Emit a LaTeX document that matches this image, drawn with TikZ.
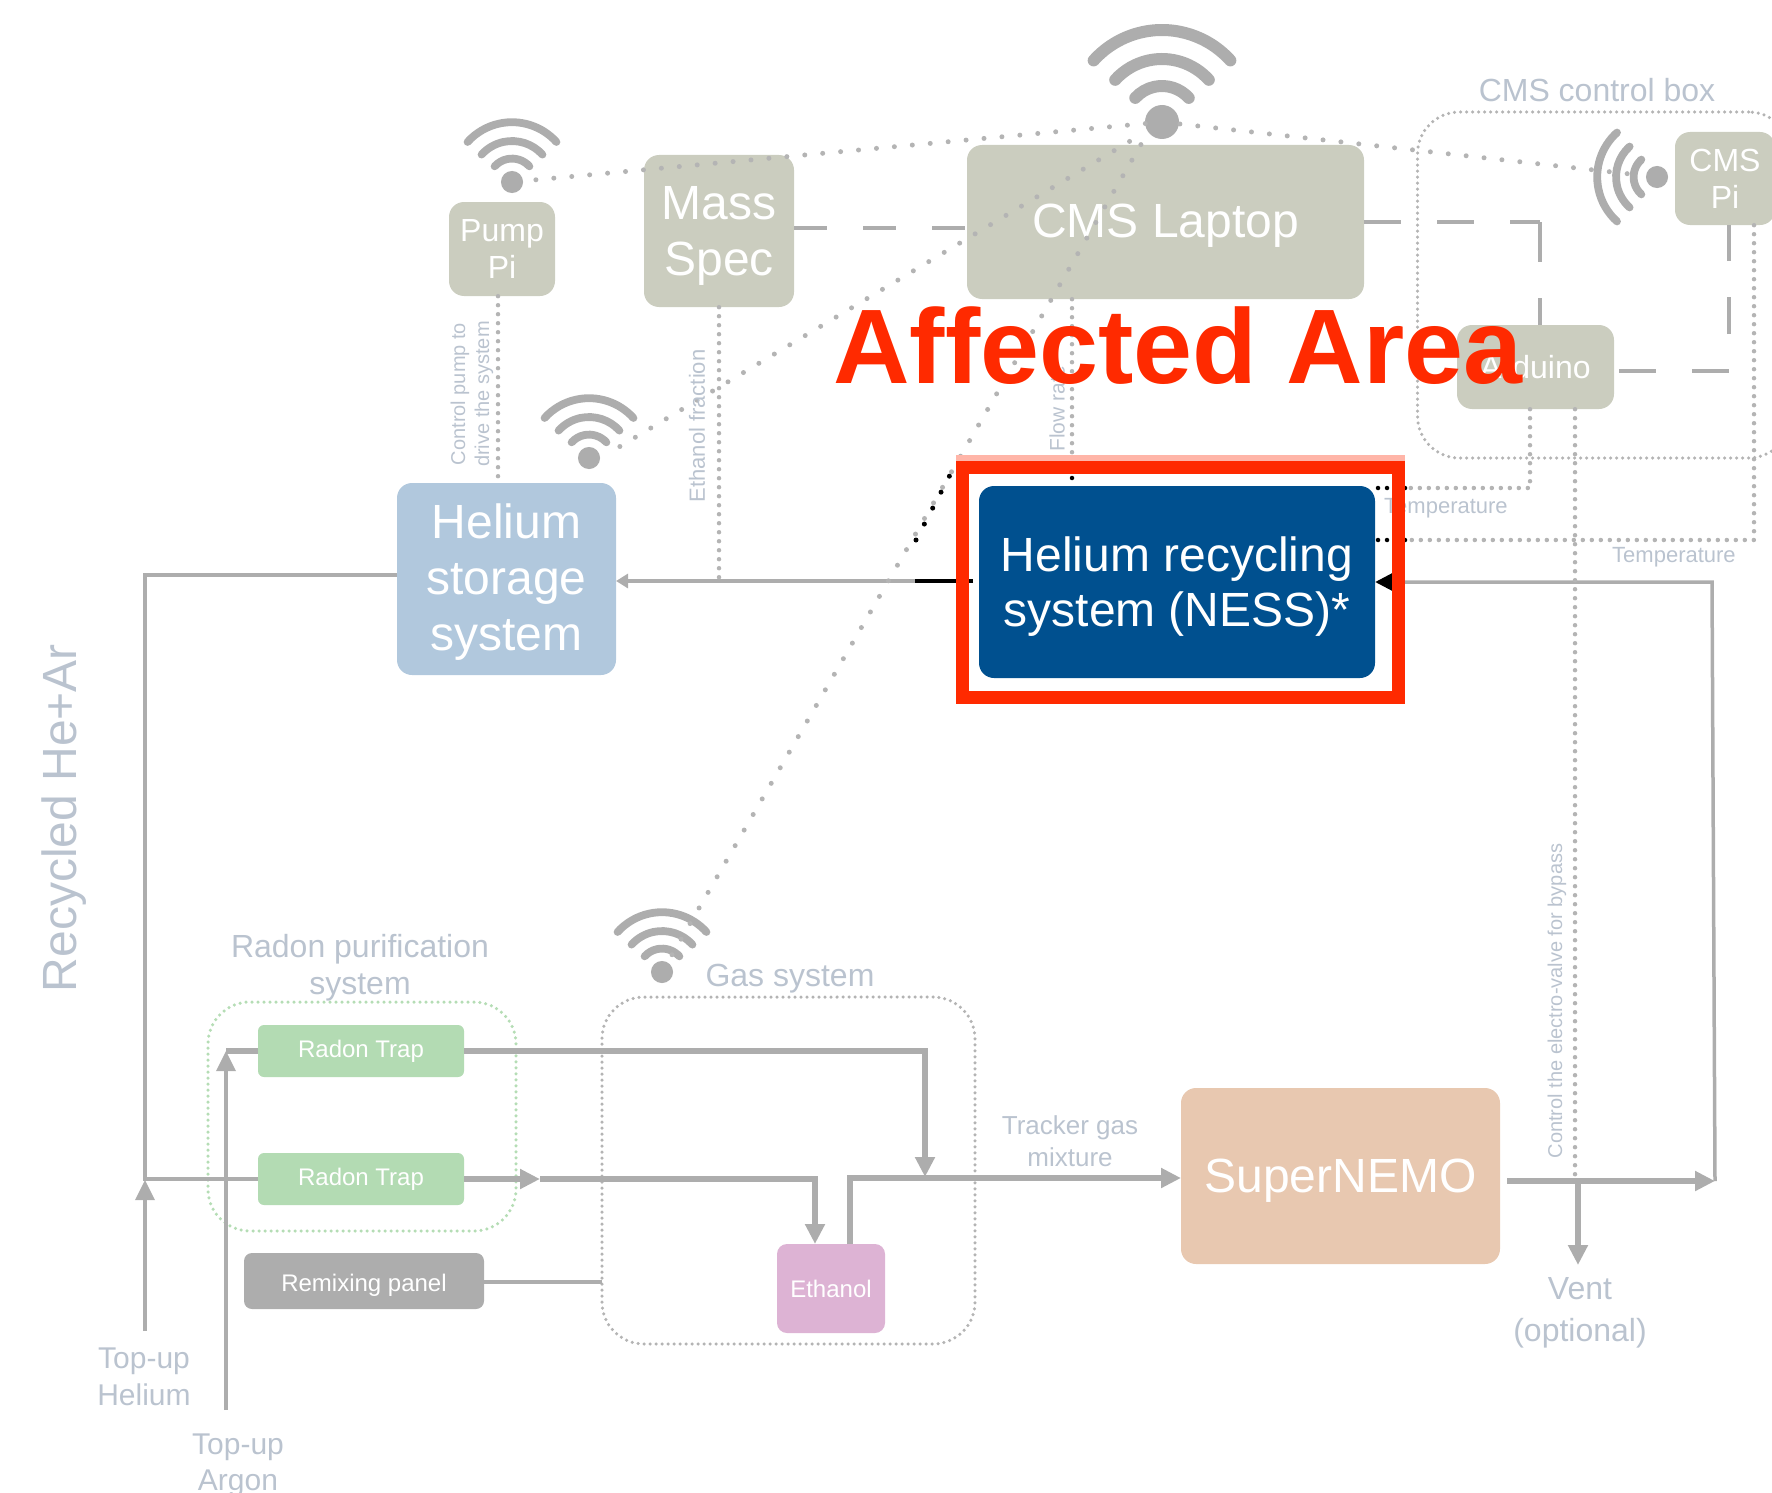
\documentclass[tikz,border=0pt]{standalone}
\usepackage{fontspec}
\setmainfont{Liberation Sans}
\usetikzlibrary{arrows.meta,calc}
\definecolor{linegray}{HTML}{ADADAD}
\definecolor{dotgray}{HTML}{B4B4B4}
\definecolor{boxgray}{HTML}{CBCDBF}
\definecolor{labelgray}{HTML}{BAC3CF}
\definecolor{stblue}{HTML}{B1C8DD}
\definecolor{nessblue}{HTML}{00508F}
\definecolor{trapgreen}{HTML}{B3DBB3}
\definecolor{groupgreen}{HTML}{B5DDB5}
\definecolor{ethpink}{HTML}{DDB3D4}
\definecolor{snorange}{HTML}{E8C8B0}
\definecolor{alertred}{HTML}{FF2A00}
\definecolor{alertpink}{HTML}{FFB5A8}
\newcommand{\lift}[1]{\rule{0pt}{#1pt}}
\tikzset{
  fs/.style 2 args={font=\fontsize{#1pt}{#2pt}\selectfont},
  box/.style={rounded corners=15pt,inner sep=0pt,align=center,text=white},
  label/.style={inner sep=0pt,align=center,text=labelgray},
  flow/.style={draw=linegray,line width=5.5pt},
  thinflow/.style={draw=linegray,line width=3.5pt},
  tip/.style={-{Triangle[length=20pt,width=19pt]}},
  darkflow/.style={draw=black,line width=4.5pt},
  dashline/.style={draw=linegray,line width=4pt,dash pattern=on 37pt off 36pt},
  dotline/.style={draw=dotgray,line width=4.5pt,line cap=round,dash pattern=on 0pt off 9pt},
  diagdot/.style={draw=dotgray,line width=5pt,line cap=round,dash pattern=on 0pt off 18pt},
  darkdot/.style={draw=black,line width=4.5pt,line cap=round,dash pattern=on 0pt off 9pt},
  darkdiag/.style={draw=black,line width=5pt,line cap=round,dash pattern=on 0pt off 18pt},
  group/.style={draw=dotgray,line width=3.5pt,line cap=round,dash pattern=on 0pt off 6pt,rounded corners=42pt,inner sep=0pt},
  pics/wifi/.style={code={
    \begin{scope}[y=1pt,x=1pt]
      \fill[linegray] (0,0) circle[radius=17pt*#1];
      \draw[linegray,line width=12pt*#1,line cap=round]
        (42:92*#1) arc[start angle=42,end angle=138,radius=92pt*#1]
        (42:63*#1) arc[start angle=42,end angle=138,radius=63pt*#1]
        (42:36*#1) arc[start angle=42,end angle=138,radius=36pt*#1];
    \end{scope}
  }},
}
\begin{document}
\begin{tikzpicture}[x=1pt,y=-1pt]
\useasboundingbox (0,0) rectangle (1772,1493);
\clip (0,0) rectangle (1772,1493);

% containers
\node[group,minimum width=373pt,minimum height=346pt] (ctrlbox) at (1604,285) {};
\node[group,draw=groupgreen,minimum width=308pt,minimum height=229pt] (radongroup) at (362,1116.5) {};
\node[group,minimum width=373pt,minimum height=347pt] (gasgroup) at (788.5,1170.5) {};

% boxes
\node[box,fill=boxgray,fs={32}{37},minimum width=106pt,minimum height=94pt] (pumppi) at (502,249) {Pump\\Pi};
\node[box,fill=boxgray,fs={48}{56},minimum width=150pt,minimum height=152pt] (massspec) at (719,231) {\lift{42}Mass\\Spec};
\node[box,fill=boxgray,fs={48}{52},minimum width=397pt,minimum height=154pt] (laptop) at (1165.5,222) {\lift{41}CMS Laptop};
\node[box,fill=boxgray,fs={32}{38},minimum width=157pt,minimum height=84pt] (arduino) at (1535.5,367) {Arduino};
\node[box,fill=boxgray,fs={32}{37},minimum width=100pt,minimum height=93pt] (cmspi) at (1725,178.5) {CMS\\Pi};
\node[box,fill=stblue,fs={48}{56},minimum width=219pt,minimum height=192pt] (storage) at (506.5,579) {\lift{40}Helium\\storage\\system};
\node[box,fill=nessblue,fs={48}{55},minimum width=396pt,minimum height=192pt] (ness) at (1177,582) {\lift{44}Helium recycling\\system (NESS)*};
\node[box,rounded corners=6pt,fill=trapgreen,fs={24}{28},minimum width=206pt,minimum height=52pt] (trap1) at (361,1051) {Radon Trap};
\node[box,rounded corners=6pt,fill=trapgreen,fs={24}{28},minimum width=206pt,minimum height=52pt] (trap2) at (361,1179) {Radon Trap};
\node[box,rounded corners=8pt,fill=linegray,fs={24}{28},minimum width=240pt,minimum height=56pt] (remix) at (364,1281) {\lift{25}Remixing panel};
\node[box,rounded corners=10pt,fill=ethpink,fs={24}{28},minimum width=108pt,minimum height=89pt] (ethanol) at (831,1288.5) {Ethanol};
\node[box,fill=snorange,fs={48}{56},minimum width=319pt,minimum height=176pt] (supernemo) at (1340.5,1176) {\lift{43}SuperNEMO};

% wifi marks
\coordinate (wtop) at (1162,122);
\coordinate (wpump) at (512,182);
\coordinate (whelium) at (589,458);
\coordinate (wgas) at (662,972);
\coordinate (wcms) at (1657,177);
\pic at (wtop) {wifi=1};
\pic at (wpump) {wifi=0.65};
\pic at (whelium) {wifi=0.65};
\pic at (wgas) {wifi=0.65};
\pic[rotate=90] at (wcms) {wifi=0.65};

% junctions
\coordinate (storeIn) at (397,575);
\coordinate (mainJ) at (145,1179);
\coordinate (heS) at (145,1331);
\coordinate (heT) at (145,1180);
\coordinate (arS) at (226,1410);
\coordinate (arT) at (226,1051);
\coordinate (afterTrap) at (540,1179);
\coordinate (ethIn) at (815,1244);
\coordinate (ethOut) at (850,1244);
\coordinate (mergeJ) at (925,1177);
\coordinate (snIn) at (1181,1178);
\coordinate (snOut) at (1507,1181);
\coordinate (retJ) at (1715,1181);
\coordinate (ventJ) at (1578,1181);
\coordinate (ventT) at (1578,1265);
\coordinate (retTop) at (1712,582);
\coordinate (nessRframe) at (1395,582);
\coordinate (nessLout) at (915,581);
\coordinate (storeOut) at (616,581);
\coordinate (nessLin) at (973,581);
\coordinate (gasW) at (602,1282);

% gas flow
\draw[flow,line width=4pt] (storeIn) -| (mainJ) -- (trap2.west);
\draw[flow,tip] (trap2.east) -- (afterTrap);
\draw[flow,tip] (afterTrap) -| (ethIn);
\draw[flow,tip] (trap1.east) -| (mergeJ);
\draw[flow,tip] (ethOut) |- (snIn);
\draw[flow,tip] (snOut) -- (retJ);
\draw[thinflow] (retJ) -- (retTop) -- (nessRframe);
\draw[flow,tip] (ventJ) -- (ventT);
\draw[thinflow,tip] (heS) -- (heT);
\draw[thinflow,tip] (arS) -- (arT);
\draw[flow] (arT) -- (trap1.west);
\draw[thinflow] (remix.east |- gasW) -- (gasW);
\draw[flow,line width=4pt,-{Triangle[length=12pt,width=14pt]}] (nessLout) -- (storeOut);
\draw[darkflow] (nessLin) -- (nessLout);
\draw[draw=black,line width=3pt,-{Triangle[length=18pt,width=18pt]}] (nessRframe) -- (ness.east);

% network (dashed)
\coordinate (msL) at (794,228);
\coordinate (lapL) at (967,228);
\coordinate (lapR) at (1364,222);
\coordinate (arTop) at (1540,222);
\coordinate (arIn) at (1540,325);
\coordinate (arR) at (1619,371);
\coordinate (piCorner) at (1729,371);
\coordinate (piMid) at (1729,334);
\coordinate (piIn) at (1729,225);
\draw[dashline,dash pattern=on 33pt off 36pt] (msL) -- (lapL);
\draw[dashline] (lapR) -- (arTop);
\draw[dashline,dash pattern=on 40pt off 36pt] (arTop) -- (arIn);
\draw[dashline] (arR) -- (piCorner);
\draw[dashline] (piMid) -- (piIn);

% dotted links
\draw[diagdot,shorten <=24pt,shorten >=15pt] (wpump) -- (wtop);
\draw[diagdot,shorten <=18pt,shorten >=24pt] (wtop) -- (wcms);
\draw[diagdot,shorten <=36pt,shorten >=20pt] ($(whelium)+(0,7)$) -- (wtop);
\draw[diagdot,shorten <=20pt,shorten >=20pt] (wgas) -- ($(wtop)+(-8,0)$);
\coordinate (pumpDown) at (498,483);
\coordinate (msDown) at (719,581);
\coordinate (flowBot) at (1072,486);
\coordinate (flowFrame) at (1072,460);
\coordinate (tempA) at (1530,488);
\coordinate (tempAin) at (1375,488);
\coordinate (tempAframe) at (1405,488);
\coordinate (tempB) at (1754,540);
\coordinate (tempBin) at (1375,540);
\coordinate (tempBframe) at (1405,540);
\coordinate (valveBot) at (1575,1181);
\coordinate (diagA) at (916,540);
\coordinate (diagB) at (950,475);
\draw[dotline] (pumppi.south -| pumpDown) -- (pumpDown);
\draw[dotline] (massspec.south) -- (msDown);
\draw[dotline] (laptop.south -| flowBot) -- (flowFrame);
\draw[dotline] (arduino.south -| tempA) -- (tempA) -- (tempAframe);
\draw[dotline] (cmspi.south -| tempB) -- (tempB) -- (tempBframe);
\draw[dotline] (arduino.south -| valveBot) -- (valveBot);

% dark parts
\draw[darkdot] (flowFrame) -- (flowBot);
\draw[darkdot] (tempAframe) -- (tempAin);
\draw[darkdot] (tempBframe) -- (tempBin);
\draw[darkdiag] (diagA) -- (diagB);

% labels
\node[label,fs={20}{24},rotate=90] (lblpump) at (472,394) {Control pump to\\drive the system};
\node[label,fs={22}{26},rotate=90] (lbleth) at (697,426) {Ethanol fraction};
\node[label,fs={21}{25},rotate=90,anchor=west] (lblflow) at (1057,452) {Flow rate};
\node[label,fs={22}{26},anchor=west] (lbltemp1) at (1384,508) {Temperature};
\node[label,fs={22}{26},anchor=west] (lbltemp2) at (1612,557) {Temperature};
\node[label,fs={20}{24},rotate=90] (lblvalve) at (1557,1001) {Control the electro-valve for bypass};
\node[label,fs={48}{56},rotate=90] (lblrec) at (64,818) {Recycled He+Ar};
\node[label,fs={32}{37}] (lblradon) at (360,968) {Radon purification\\system};
\node[label,fs={32}{37}] (lblgas) at (790,979) {Gas system};
\node[label,fs={32}{37}] (lblctrl) at (1597,90) {CMS control box};
\node[label,fs={26}{32}] (lbltrack) at (1070,1141) {Tracker gas\\mixture};
\node[label,fs={32}{42}] (lblvent) at (1580,1313) {Vent\\(optional)};
\node[label,fs={30}{37}] (lblhe) at (144,1376.5) {Top-up\\Helium};
\node[label,fs={30}{36}] (lblar) at (238,1465) {Top-up\\Argon};

% highlight
\coordinate (stripA) at (956,455);
\coordinate (stripB) at (1405,461);
\fill[alertpink] (stripA) rectangle (stripB);
\node[draw=alertred,line width=13pt,inner sep=0pt,minimum width=436pt,minimum height=230pt] (frame) at (1180.5,582) {};
\node[inner sep=0pt,text=alertred,anchor=base,font=\fontsize{106pt}{118pt}\selectfont\bfseries] (affected) at (1178,383) {Affected Area};
\end{tikzpicture}
\end{document}
